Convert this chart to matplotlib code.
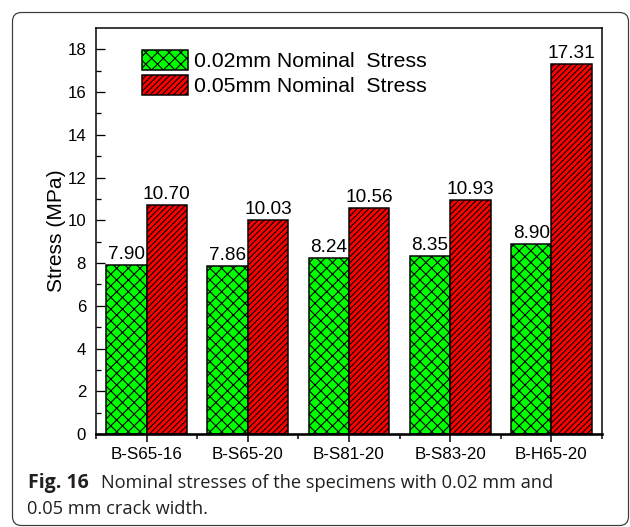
import numpy as np
import matplotlib
matplotlib.use('Agg')
import matplotlib.pyplot as plt
from matplotlib.patches import Patch, FancyBboxPatch
from matplotlib.transforms import IdentityTransform
from matplotlib.ticker import FixedLocator

# specimen groups and nominal stresses (MPa)
specimens = ['B-S65-16', 'B-S65-20', 'B-S81-20', 'B-S83-20', 'B-H65-20']
stress_002 = [7.90, 7.86, 8.24, 8.35, 8.90]
stress_005 = [10.70, 10.03, 10.56, 10.93, 17.31]
series_names = ['0.02mm Nominal  Stress', '0.05mm Nominal  Stress']

DPI = 70
W, H = 630, 527
def px(v):
    # pixel length -> points at this dpi
    return v * 72.0 / DPI

plt.rcParams['font.family'] = ['Liberation Sans', 'DejaVu Sans']
plt.rcParams['hatch.linewidth'] = px(1.1)
plt.rcParams['hatch.color'] = 'black'

GREEN, RED = '#00ff00', '#ff0000'
HATCH_G, HATCH_R = 'xx', '////'

fig = plt.figure(figsize=(W / DPI, H / DPI), dpi=DPI)
ax = fig.add_axes([96 / W, 1 - 434 / H, (602 - 96) / W, (434 - 28) / H])

x = np.arange(len(specimens)) + 0.5
w = 0.4
b1 = ax.bar(x - w / 2, stress_002, w, color=GREEN, edgecolor='black',
            linewidth=px(1.5), hatch=HATCH_G)
b2 = ax.bar(x + w / 2, stress_005, w, color=RED, edgecolor='black',
            linewidth=px(1.5), hatch=HATCH_R)

for bars, vals in ((b1, stress_002), (b2, stress_005)):
    for r, v in zip(bars, vals):
        ax.annotate('%.2f' % v, (r.get_x() + r.get_width() / 2, v),
                    xytext=(0, px(6)), textcoords='offset points',
                    ha='center', va='baseline', fontsize=px(19))

ax.set_xlim(0, 5)
ax.set_ylim(0, 19)

ax.set_xticks(x)
ax.set_xticklabels(specimens)
ax.xaxis.set_minor_locator(FixedLocator(np.arange(0, 6)))
ax.set_yticks(np.arange(0, 19, 2))
ax.yaxis.set_minor_locator(FixedLocator(np.arange(1, 19, 2)))

ax.tick_params(axis='x', which='major', direction='out', length=px(7.5),
               width=px(1.5), pad=px(5.5), labelsize=px(17))
ax.tick_params(axis='x', which='minor', direction='out', length=px(5),
               width=px(1.5))
ax.tick_params(axis='y', which='major', direction='in', length=px(8.7),
               width=px(1.3), pad=px(10), labelsize=px(16.8))
ax.tick_params(axis='y', which='minor', direction='in', length=px(4.5),
               width=px(1.3))

for s in ('left', 'top', 'right'):
    ax.spines[s].set_linewidth(px(1.5))
ax.spines['bottom'].set_linewidth(px(2.6))

ax.set_ylabel('Stress (MPa)', fontsize=px(21))
ax.yaxis.set_label_coords(-0.059, 0.5)

handles = [Patch(facecolor=GREEN, edgecolor='black', hatch=HATCH_G, linewidth=px(1.5)),
           Patch(facecolor=RED, edgecolor='black', hatch=HATCH_R, linewidth=px(1.5))]
ax.legend(handles, series_names, loc='upper left', bbox_to_anchor=(0.0909, 0.9463),
          frameon=False, borderpad=0, borderaxespad=0, fontsize=px(21.2),
          handlelength=2.17, handleheight=1.1, handletextpad=0.28,
          labelspacing=0.17)

# caption below the plot
cap_color = '#231f20'
fig.text(27.7 / W, 1 - 487.7 / H, 'Fig. 16', fontsize=px(19.5), fontweight='bold',
         family='Open Sans', color=cap_color, va='baseline', ha='left')
fig.text(101 / W, 1 - 487.7 / H,
         'Nominal stresses of the specimens with 0.02 mm and',
         fontsize=px(18.2), family='Open Sans', color=cap_color,
         va='baseline', ha='left')
fig.text(26.7 / W, 1 - 514 / H, '0.05 mm crack width.', fontsize=px(18.2),
         family='Open Sans', color=cap_color, va='baseline', ha='left')

# rounded frame around figure and caption
frame = FancyBboxPatch((12.5, 1.5), 616, 513, boxstyle='round,pad=0,rounding_size=9',
                       transform=IdentityTransform(), facecolor='none',
                       edgecolor='#3a3a3a', linewidth=px(1.2))
fig.patches.append(frame)

fig.savefig('out.png', dpi=DPI)
